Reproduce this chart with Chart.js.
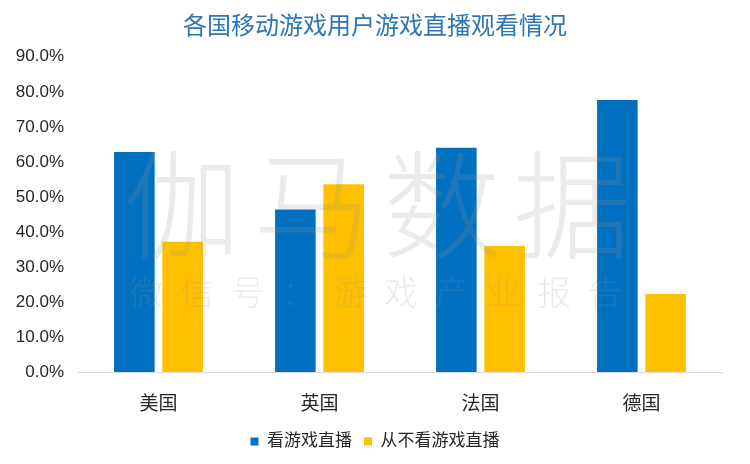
<!DOCTYPE html>
<html>
<head>
<meta charset="utf-8">
<script src="https://cdn.jsdelivr.net/npm/chart.js@4.4.0/dist/chart.umd.min.js"></script>
<style>
  html, body { margin: 0; padding: 0; background: #fff; }
  #wrap { width: 750px; height: 464px; }
</style>
</head>
<body>
<div id="wrap"><canvas id="bar"></canvas></div>
<script>
const countries = ['美国', '英国', '法国', '德国'];
const watchLive = [62.8, 46.4, 64.0, 77.7];
const neverWatch = [37.2, 53.6, 36.0, 22.3];
const seriesNames = ['看游戏直播', '从不看游戏直播'];
const yMax = 90;
const yStep = 10;

const fontFamily = "'Liberation Sans', 'Noto Sans CJK SC', sans-serif";

// faint watermark drawn over the bars
const watermark = {
    id: 'watermark',
    afterDatasetsDraw(chart) {
        const c = chart.ctx;
        c.save();
        c.fillStyle = 'rgba(150, 150, 150, 0.19)';
        c.textAlign = 'center';
        c.textBaseline = 'middle';
        c.font = "300 118px 'Noto Sans CJK SC'";
        c.letterSpacing = '12px';
        c.fillText('伽马数据', 383, 205);
        c.font = "300 34px 'Noto Sans CJK SC'";
        c.letterSpacing = '17px';
        c.fillText('微信号：游戏产业报告', 384, 292);
        c.restore();
    }
};

const data = {
    labels: countries,
    datasets: [{
        label: seriesNames[0],
        data: watchLive,
        backgroundColor: '#0070C0',
        categoryPercentage: 0.6,
        barPercentage: 0.84
    }, {
        label: seriesNames[1],
        data: neverWatch,
        backgroundColor: '#FFC000',
        categoryPercentage: 0.6,
        barPercentage: 0.84
    }]
};

const config = {
    type: 'bar',
    data: data,
    options: {
        responsive: true,
        maintainAspectRatio: false,
        animation: false,
        layout: {
            padding: { left: 0, right: 0, top: 0, bottom: 4 }
        },
        plugins: {
            title: {
                display: true,
                text: '各国移动游戏用户游戏直播观看情况',
                color: '#2E75B6',
                font: { family: fontFamily, size: 24, weight: 'normal' },
                padding: { top: 13, bottom: 15 }
            },
            legend: {
                position: 'bottom',
                labels: {
                    color: '#262626',
                    font: { family: fontFamily, size: 17 },
                    boxWidth: 8,
                    boxHeight: 8,
                    padding: 12
                }
            },
            tooltip: { enabled: false }
        },
        scales: {
            x: {
                afterFit(scale) { scale.height = 49; },
                grid: { display: false },
                border: { display: true, color: '#D9D9D9', width: 1 },
                ticks: {
                    color: '#262626',
                    font: { family: fontFamily, size: 19 },
                    padding: 13
                }
            },
            y: {
                min: 0,
                max: yMax,
                afterFit(scale) { scale.width = 78; },
                grid: { display: false, drawTicks: false },
                border: { display: false },
                ticks: {
                    stepSize: yStep,
                    color: '#262626',
                    font: { family: fontFamily, size: 17 },
                    padding: 14,
                    callback: v => v.toFixed(1) + '%'
                }
            },
            // empty right margin so the title and legend stay centred on the page
            yRight: {
                position: 'right',
                afterFit(scale) { scale.width = 28; },
                grid: { display: false, drawTicks: false },
                border: { display: false },
                ticks: { display: false }
            }
        }
    },
    plugins: [watermark]
};

const ctx = document.getElementById('bar').getContext('2d');
new Chart(ctx, config);
</script>
</body>
</html>
